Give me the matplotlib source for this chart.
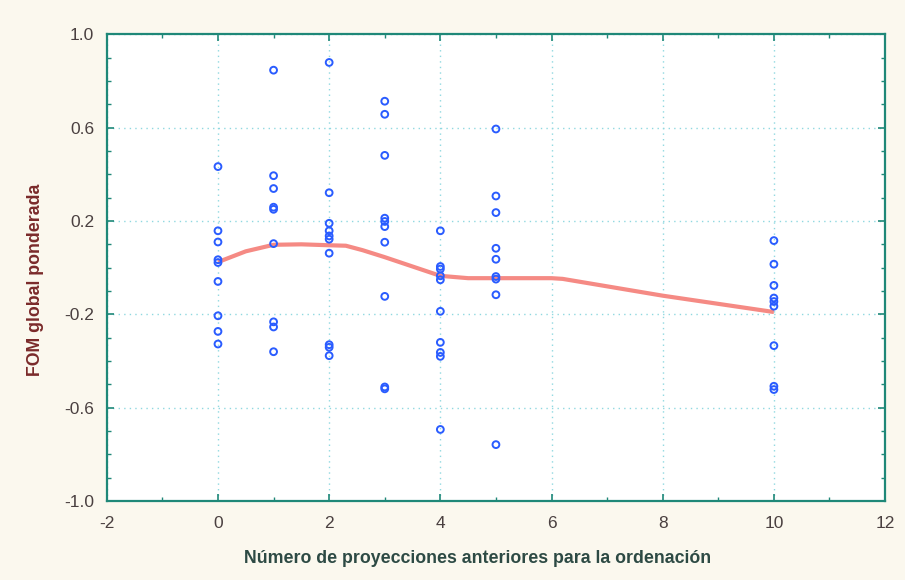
import matplotlib
matplotlib.use("Agg")
import matplotlib.pyplot as plt
from matplotlib.ticker import MultipleLocator, FormatStrFormatter
import numpy as np

# FOM values grouped by number of previous projections
n_prev = [0, 1, 2, 3, 4, 5, 10]
fom_by_group = [
    [0.433, 0.158, 0.110, 0.034, 0.022, -0.059, -0.206, -0.273, -0.327],
    [0.846, 0.394, 0.339, 0.259, 0.250, 0.103, -0.232, -0.254, -0.360],
    [0.879, 0.321, 0.190, 0.158, 0.136, 0.122, 0.062, -0.330, -0.341, -0.377],
    [0.713, 0.657, 0.481, 0.212, 0.198, 0.176, 0.109, -0.123, -0.511, -0.519],
    [0.158, 0.005, -0.006, -0.035, -0.052, -0.187, -0.320, -0.363, -0.380, -0.693],
    [0.594, 0.307, 0.236, 0.083, 0.036, -0.038, -0.049, -0.116, -0.758],
    [0.116, 0.015, -0.076, -0.130, -0.145, -0.165, -0.334, -0.508, -0.522],
]

# Smoothed trend line
fit_x = [0, 0.5, 1, 1.5, 2, 2.3, 2.6, 3, 3.5, 4, 4.5, 5, 6, 6.2, 7, 8, 9, 10]
fit_y = [0.024, 0.070, 0.098, 0.100, 0.096, 0.094, 0.075, 0.045, 0.005, -0.035,
         -0.045, -0.045, -0.045, -0.048, -0.080, -0.120, -0.155, -0.190]

x_label = "Número de proyecciones anteriores para la ordenación"
y_label = "FOM global ponderada"

plt.rcParams['font.family'] = ['Liberation Sans', 'DejaVu Sans']
plt.rcParams['axes.unicode_minus'] = False

fig = plt.figure(figsize=(9.05, 5.8), dpi=100, facecolor="#fbf8ee")
ax = fig.add_axes([0.118, 0.136, 0.860, 0.805])
ax.set_facecolor("white")

xs = np.concatenate([[g] * len(v) for g, v in zip(n_prev, fom_by_group)])
ys = np.concatenate(fom_by_group)

ax.plot(fit_x, fit_y, color="#f58a84", lw=3.0, zorder=2, solid_capstyle="butt")
ax.scatter(xs, ys, s=24, facecolors="none", edgecolors="#2a5cff", linewidths=1.4, zorder=3)

ax.set_xlim(-2, 12)
ax.set_ylim(-1.0, 1.0)
ax.xaxis.set_major_locator(MultipleLocator(2))
ax.xaxis.set_minor_locator(MultipleLocator(1))
ax.yaxis.set_minor_locator(MultipleLocator(0.1))
ax.set_yticks(np.arange(-1.0, 1.01, 0.4))
ax.yaxis.set_major_formatter(FormatStrFormatter("%.1f"))

teal = "#1f8878"
for sp in ax.spines.values():
    sp.set_color(teal)
    sp.set_linewidth(1.6)

ax.tick_params(which="both", direction="in", top=True, right=True, color=teal)
ax.tick_params(which="major", length=5, width=1.2, labelsize=12.5, labelcolor="#4a4040")
ax.tick_params(axis="y", which="major", pad=9)
ax.tick_params(axis="x", which="major", pad=11)
ax.tick_params(which="minor", length=3, width=1.0)

ax.grid(True, which="major", color="#8fd8e0", linestyle=(0, (1, 3)), linewidth=1.0)
ax.set_axisbelow(True)

ax.set_xlabel(x_label, fontsize=12.8, fontweight="bold", color="#2d4a44")
ax.set_ylabel(y_label, fontsize=12.8, fontweight="bold", color="#7a2a2a")
ax.xaxis.set_label_coords(0.477, -0.105)
ax.yaxis.set_label_coords(-0.081, 0.473)

fig.savefig("out.png", dpi=100, facecolor=fig.get_facecolor())
